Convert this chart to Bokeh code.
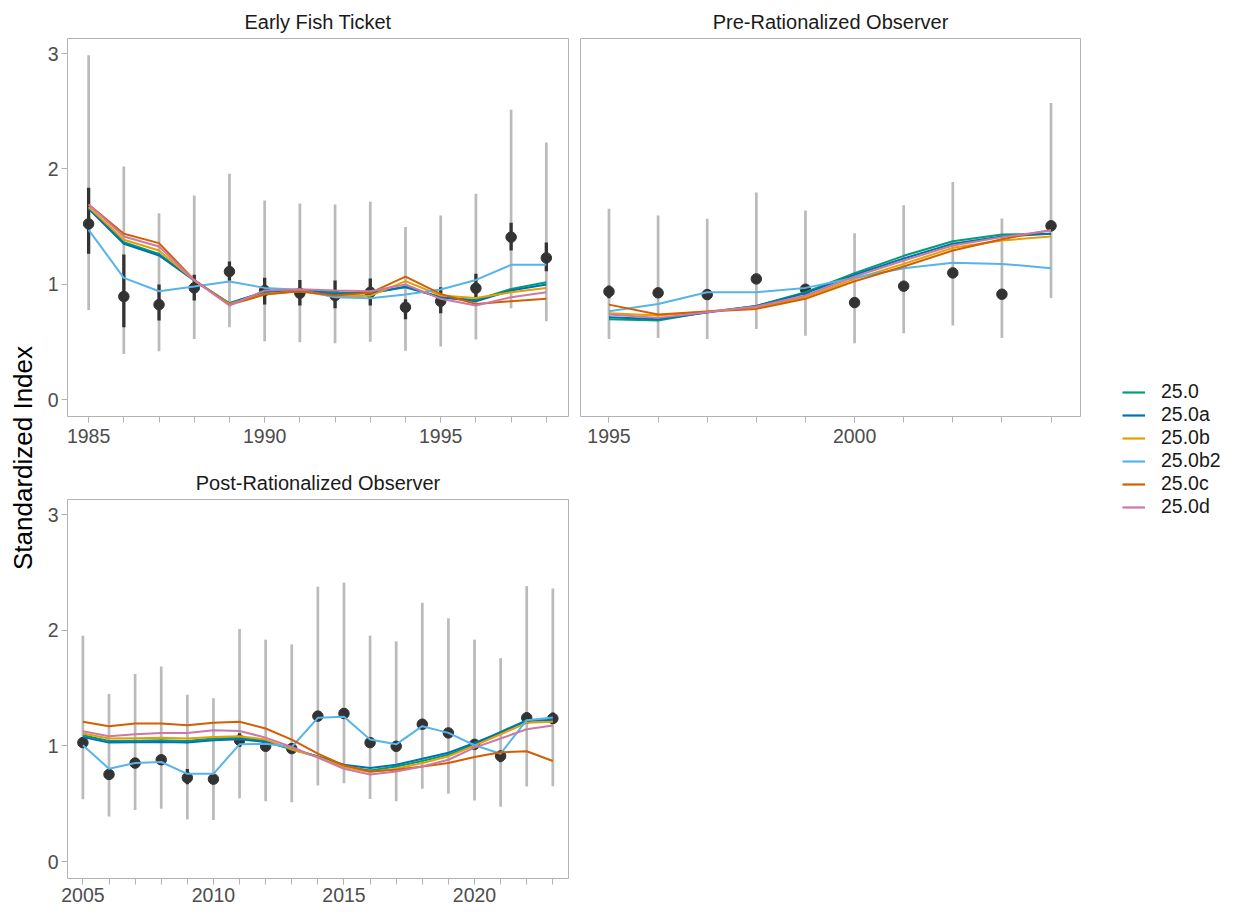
import math
from bokeh.plotting import figure
from bokeh.layouts import row, column
from bokeh.models import (Range1d, FixedTicker, Label, Legend, LegendItem)
from bokeh.embed import file_html
from bokeh.resources import INLINE

FONT = "Liberation Sans"
MODELS = ["25.0", "25.0a", "25.0b", "25.0b2", "25.0c", "25.0d"]
COLORS = ["#009E73", "#0072B2", "#E69F00", "#56B4E9", "#D55E00", "#CC79A7"]

# ---- Early Fish Ticket ----
eft_years = list(range(1985, 1999))
eft_obs = [1.524, 0.894, 0.824, 0.969, 1.111, 0.946, 0.923, 0.903, 0.931, 0.801, 0.853, 0.966, 1.409, 1.229]
eft_lo = [0.778, 0.396, 0.419, 0.526, 0.628, 0.506, 0.498, 0.489, 0.503, 0.425, 0.460, 0.521, 0.793, 0.680]
eft_hi = [2.985, 2.022, 1.617, 1.770, 1.958, 1.727, 1.701, 1.692, 1.715, 1.496, 1.597, 1.785, 2.514, 2.230]
eft_lo_in = [1.264, 0.628, 0.686, 0.859, 1.030, 0.824, 0.816, 0.793, 0.816, 0.697, 0.749, 0.874, 1.293, 1.114]
eft_hi_in = [1.837, 1.258, 0.998, 1.082, 1.198, 1.056, 1.038, 1.033, 1.050, 0.870, 0.975, 1.091, 1.533, 1.362]
eft_fits = {
    "25.0":   [1.663, 1.365, 1.264, 1.033, 0.836, 0.931, 0.950, 0.931, 0.920, 0.981, 0.888, 0.865, 0.960, 1.018],
    "25.0a":  [1.655, 1.351, 1.250, 1.033, 0.836, 0.937, 0.952, 0.917, 0.926, 0.975, 0.888, 0.853, 0.946, 0.998],
    "25.0b":  [1.669, 1.386, 1.293, 1.033, 0.830, 0.917, 0.940, 0.894, 0.900, 1.027, 0.903, 0.882, 0.931, 0.969],
    "25.0b2": [1.472, 1.056, 0.940, 0.981, 1.024, 0.969, 0.952, 0.888, 0.879, 0.911, 0.955, 1.038, 1.169, 1.169],
    "25.0c":  [1.692, 1.438, 1.357, 1.038, 0.822, 0.911, 0.940, 0.903, 0.926, 1.067, 0.917, 0.830, 0.853, 0.874],
    "25.0d":  [1.692, 1.415, 1.328, 1.036, 0.816, 0.946, 0.958, 0.946, 0.940, 0.998, 0.874, 0.816, 0.888, 0.931],
}

# ---- Pre-Rationalized Observer ----
pre_years = list(range(1995, 2005))
pre_obs = [0.937, 0.926, 0.911, 1.047, 0.957, 0.842, 0.984, 1.099, 0.914, 1.507]
pre_lo = [0.526, 0.535, 0.526, 0.613, 0.555, 0.489, 0.576, 0.642, 0.535, 0.882]
pre_hi = [1.655, 1.597, 1.568, 1.796, 1.640, 1.443, 1.686, 1.886, 1.571, 2.572]
pre_lo_in = [0.880, 0.890, 0.875, 1.010, 0.920, 0.800, 0.950, 1.060, 0.880, 1.460]
pre_hi_in = [0.990, 0.960, 0.950, 1.080, 0.990, 0.880, 1.020, 1.140, 0.950, 1.550]
pre_fits = {
    "25.0":   [0.697, 0.686, 0.760, 0.813, 0.931, 1.096, 1.247, 1.374, 1.432, 1.438],
    "25.0a":  [0.714, 0.697, 0.756, 0.813, 0.923, 1.082, 1.224, 1.351, 1.415, 1.438],
    "25.0b":  [0.749, 0.729, 0.765, 0.801, 0.888, 1.047, 1.177, 1.316, 1.380, 1.415],
    "25.0b2": [0.767, 0.830, 0.931, 0.931, 0.969, 1.056, 1.140, 1.186, 1.177, 1.140],
    "25.0c":  [0.824, 0.738, 0.764, 0.787, 0.874, 1.027, 1.154, 1.293, 1.391, 1.472],
    "25.0d":  [0.738, 0.709, 0.758, 0.807, 0.903, 1.067, 1.206, 1.336, 1.409, 1.467],
}

# ---- Post-Rationalized Observer ----
post_years = list(range(2005, 2024))
post_obs = [1.029, 0.754, 0.852, 0.881, 0.725, 0.713, 1.049, 0.997, 0.977, 1.258, 1.281, 1.029, 0.997, 1.188, 1.113, 1.014, 0.913, 1.243, 1.238]
post_lo = [0.539, 0.391, 0.446, 0.458, 0.365, 0.359, 0.548, 0.522, 0.513, 0.658, 0.678, 0.542, 0.522, 0.629, 0.586, 0.528, 0.475, 0.649, 0.652]
post_hi = [1.954, 1.449, 1.623, 1.687, 1.443, 1.412, 2.012, 1.919, 1.878, 2.377, 2.412, 1.954, 1.904, 2.238, 2.104, 1.919, 1.759, 2.383, 2.362]
post_lo_in = [0.990, 0.720, 0.820, 0.840, 0.670, 0.680, 0.990, 0.960, 0.940, 1.220, 1.240, 0.990, 0.960, 1.150, 1.080, 0.980, 0.860, 1.190, 1.190]
post_hi_in = [1.070, 0.790, 0.890, 0.920, 0.800, 0.750, 1.110, 1.040, 1.020, 1.300, 1.320, 1.070, 1.040, 1.230, 1.150, 1.050, 0.960, 1.290, 1.290]
post_fits = {
    "25.0":   [1.093, 1.043, 1.046, 1.049, 1.043, 1.064, 1.072, 1.043, 0.970, 0.910, 0.823, 0.788, 0.823, 0.870, 0.925, 1.014, 1.122, 1.223, 1.223],
    "25.0a":  [1.078, 1.029, 1.032, 1.035, 1.029, 1.049, 1.058, 1.035, 0.975, 0.910, 0.838, 0.809, 0.838, 0.890, 0.942, 1.026, 1.116, 1.217, 1.223],
    "25.0b":  [1.107, 1.064, 1.067, 1.070, 1.064, 1.078, 1.084, 1.055, 0.970, 0.905, 0.817, 0.774, 0.803, 0.852, 0.910, 1.003, 1.101, 1.200, 1.209],
    "25.0b2": [1.006, 0.803, 0.852, 0.861, 0.759, 0.759, 1.014, 1.020, 0.991, 1.243, 1.252, 1.055, 1.014, 1.171, 1.113, 1.006, 0.933, 1.223, 1.246],
    "25.0c":  [1.209, 1.171, 1.194, 1.194, 1.180, 1.200, 1.209, 1.151, 1.055, 0.933, 0.832, 0.780, 0.794, 0.823, 0.852, 0.904, 0.945, 0.954, 0.870],
    "25.0d":  [1.128, 1.084, 1.101, 1.113, 1.113, 1.136, 1.130, 1.072, 0.991, 0.899, 0.803, 0.754, 0.780, 0.823, 0.881, 0.986, 1.064, 1.145, 1.177],
}

Y_TICKS = [0, 1, 2, 3]
Y_RANGE = (-0.146, 3.131)
BORDER = "#B3B3B3"
TOTAL_H = 906


def panel(title, years, obs, lo, hi, lo_in, hi_in, fits, xr, major, width, height,
          mb, show_y, x_standoff):
    p = figure(width=width, height=height, x_range=Range1d(*xr),
               y_range=Range1d(*Y_RANGE), toolbar_location=None,
               output_backend="svg", title=title,
               y_axis_location="left" if show_y else None,
               min_border_left=mb[0], min_border_right=mb[1],
               min_border_top=mb[2], min_border_bottom=mb[3],
               background_fill_color="white", border_fill_color="white",
               outline_line_color=BORDER, outline_line_width=1)
    p.xgrid.visible = False
    p.ygrid.visible = False
    p.title.align = "center"
    p.title.text_font = FONT
    p.title.text_font_size = "20px"
    p.title.text_font_style = "normal"
    p.title.text_color = "#1A1A1A"
    p.title.standoff = 12

    p.xaxis.ticker = FixedTicker(ticks=major, minor_ticks=years)
    axes = list(p.xaxis) + (list(p.yaxis) if show_y else [])
    if show_y:
        p.yaxis.ticker = FixedTicker(ticks=Y_TICKS, minor_ticks=[])
    for ax in axes:
        ax.axis_line_color = None
        ax.major_tick_line_color = BORDER
        ax.minor_tick_line_color = BORDER
        ax.major_tick_out = 6
        ax.major_tick_in = 0
        ax.minor_tick_out = 6
        ax.minor_tick_in = 0
        ax.major_label_text_font = FONT
        ax.major_label_text_font_size = "19.5px"
        ax.major_label_text_color = "#4D4D4D"
        ax.major_label_standoff = 3
    p.xaxis.major_label_standoff = x_standoff

    p.segment(x0=years, y0=lo, x1=years, y1=hi, line_color="#BABABA", line_width=2.7)
    p.segment(x0=years, y0=lo_in, x1=years, y1=hi_in, line_color="#333333", line_width=3.3)
    p.scatter(x=years, y=obs, size=10.5, fill_color="#333333", line_color="#333333")
    for m, c in zip(MODELS, COLORS):
        p.line(x=years, y=fits[m], line_color=c, line_width=2)
    return p


p1 = panel("Early Fish Ticket", eft_years, eft_obs, eft_lo, eft_hi, eft_lo_in, eft_hi_in,
           eft_fits, (1984.4, 1998.63), [1985, 1990, 1995], 536, 460, (29, 6, 38, 44), True, 6)
p2 = panel("Pre-Rationalized Observer", pre_years, pre_obs, pre_lo, pre_hi, pre_lo_in, pre_hi_in,
           pre_fits, (1994.42, 2004.6), [1995, 2000], 516, 460, (6, 10, 38, 44), False, 6)
p3 = panel("Post-Rationalized Observer", post_years, post_obs, post_lo, post_hi, post_lo_in, post_hi_in,
           post_fits, (2004.41, 2023.6), [2005, 2010, 2015, 2020], 536, 446, (29, 6, 39, 28), True, 3)

# y-axis title
ylab = figure(width=38, height=TOTAL_H, x_range=Range1d(0, 38), y_range=Range1d(0, TOTAL_H),
              toolbar_location=None, output_backend="svg", x_axis_location=None,
              y_axis_location=None, min_border=0, outline_line_color=None)
ylab.grid.visible = False
ylab.add_layout(Label(x=22, y=TOTAL_H - 457.5, text="Standardized Index", angle=math.pi / 2,
                      x_units="screen", y_units="screen",
                      text_align="center", text_baseline="middle", text_font=FONT,
                      text_font_size="26px", text_color="#000000"))

# legend
lf = figure(width=135, height=TOTAL_H, x_range=Range1d(0, 1), y_range=Range1d(0, 1),
            toolbar_location=None, output_backend="svg", x_axis_location=None,
            y_axis_location=None, min_border=0, outline_line_color=None)
lf.grid.visible = False
items = []
for m, c in zip(MODELS, COLORS):
    r = lf.line(x=[-10, -9], y=[-10, -10], line_color=c, line_width=2.2)
    items.append(LegendItem(label=m, renderers=[r]))
legend = Legend(items=items, location=(32, 388), orientation="vertical",
                glyph_width=23, glyph_height=20, label_height=20, spacing=0,
                label_standoff=16, padding=0, margin=0, border_line_color=None,
                background_fill_alpha=0, label_text_font=FONT,
                label_text_font_size="19.5px", label_text_color="#1A1A1A")
lf.add_layout(legend)

layout = row(ylab, column(row(p1, p2), p3), lf)

open("out.html", "w").write(file_html(layout, INLINE))
